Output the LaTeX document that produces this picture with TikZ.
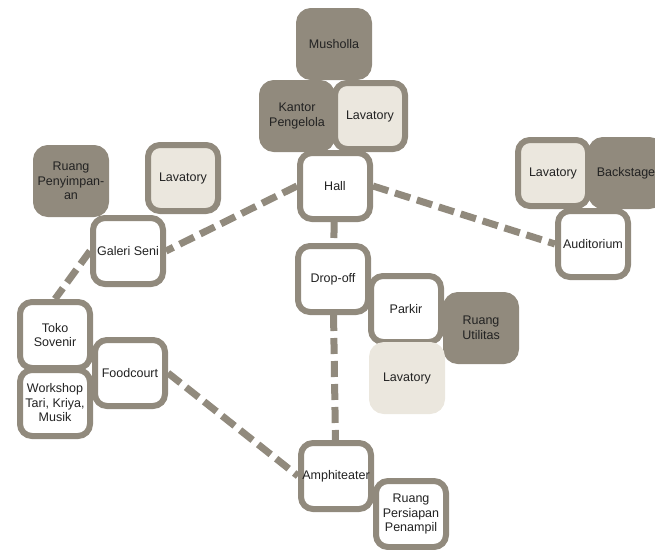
\documentclass[tikz,border=0pt]{standalone}
\usepackage{fontspec}
\setmainfont{Liberation Sans}
\usetikzlibrary{backgrounds}
\definecolor{taupe}{RGB}{145,138,125}
\definecolor{linen}{RGB}{235,231,222}
\definecolor{ink}{RGB}{34,34,34}
\begin{document}
\begin{tikzpicture}[x=1pt,y=-1pt,
                 room/.style={draw=taupe,line width=6pt,rounded corners=12pt,fill=white,text=ink,
                   minimum width=70pt,minimum height=66pt,inner sep=0pt,align=center,
                   font=\fontsize{12.5}{14.5}\selectfont},
                 service/.style={room,fill=linen},
                 store/.style={room,fill=taupe},
                 wc/.style={room,draw=linen,fill=linen},
                 link/.style={draw=taupe,line width=7pt,dash pattern=on 16pt off 7pt}]
                 \useasboundingbox (0,0) rectangle (655,549);
                 \node[store](mus)at(334,44){Musholla};
                 \node[store](kan)at(297,116){Kantor\\Pengelola};
                 \node[service](lav1)at(370,116){Lavatory};
                 \node[room](hall)at(335,186){Hall};
                 \node[store](peny)at(71,181){Ruang\\Penyimpan-\\an};
                 \node[service](lav2)at(183,178){Lavatory};
                 \node[room](gal)at(128,251){Galeri Seni};
                 \node[store](back)at(626,173){Backstage};
                 \node[service](lav3)at(553,173){Lavatory};
                 \node[room](aud)at(593,244){Auditorium};
                 \node[room](drop)at(333,279){Drop-off};
                 \node[room](park)at(406,309){Parkir};
                 \node[store](util)at(481,328){Ruang\\Utilitas};
                 \node[wc](lav4)at(407,378){Lavatory};
                 \node[room](toko)at(55,335){Toko\\Sovenir};
                 \node[room](work)at(55,403){Workshop\\Tari, Kriya,\\Musik};
                 \node[room](food)at(130,373){Foodcourt};
                 \node[room](amph)at(336,476){Amphiteater};
                 \node[room](prep)at(411,514){Ruang\\Persiapan\\Penampil};
                 \begin{scope}[on background layer]
                   \draw[link](hall.west)--(gal.east);
                   \draw[link](hall.east)--(aud.west);
                   \draw[link](hall)--(drop);
                   \draw[link](drop)--(amph);
                   \draw[link](gal.west)--(toko.north);
                   \draw[link](food.east)--(amph.west);
                 \end{scope}
               \end{tikzpicture}
\end{document}
